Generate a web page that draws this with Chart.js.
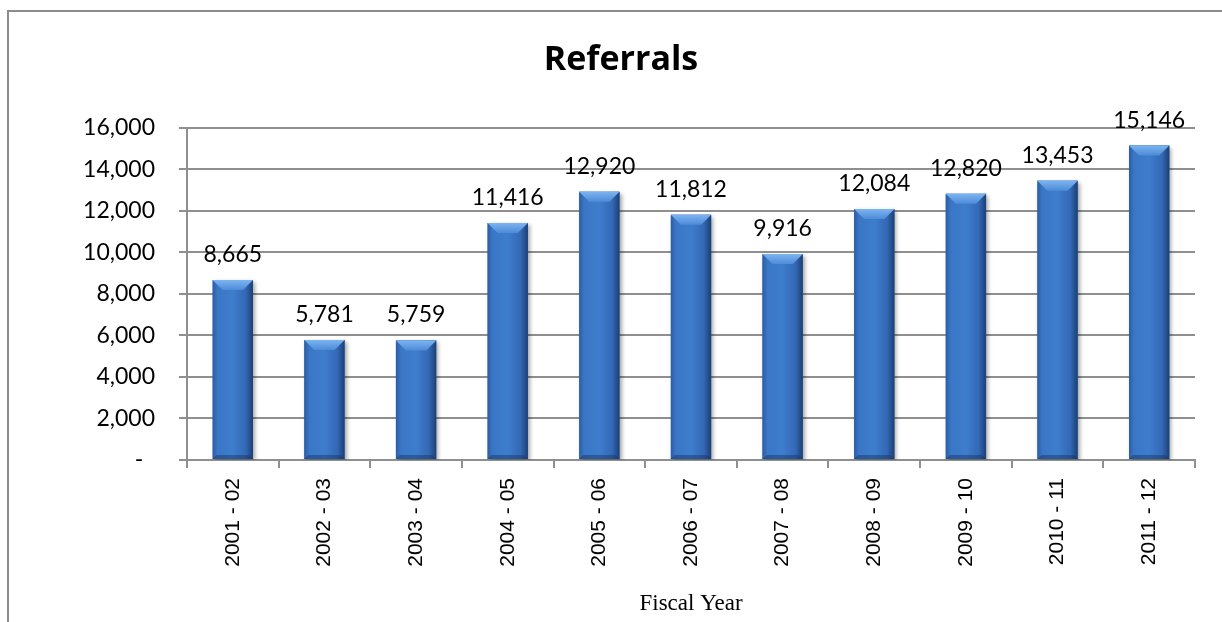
<!DOCTYPE html>
<html>
<head>
<meta charset="utf-8">
<script src="https://cdn.jsdelivr.net/npm/chart.js@4/dist/chart.umd.min.js"></script>
<style>
  html, body { margin: 0; padding: 0; background: #fff; overflow: hidden; }
  #wrap { position: relative; width: 1222px; height: 622px; }
  #frame {
    position: absolute; left: 7px; top: 10px; right: -10px; bottom: -10px;
    border-left: 2px solid #8c8c8c; border-top: 2px solid #8c8c8c;
    pointer-events: none;
  }
  canvas { position: absolute; left: 0; top: 0; }
</style>
</head>
<body>
<div id="wrap">
  <canvas id="referrals" width="1222" height="622"></canvas>
  <div id="frame"></div>
</div>
<script>
const fiscalYears = [
  "2001 - 02", "2002 - 03", "2003 - 04", "2004 - 05", "2005 - 06", "2006 - 07",
  "2007 - 08", "2008 - 09", "2009 - 10", "2010 - 11", "2011 - 12",
];
const referrals = [8665, 5781, 5759, 11416, 12920, 11812, 9916, 12084, 12820, 13453, 15146];
const yMax = 16000;
const yStep = 2000;

const numFont = "Lato, 'Open Sans', sans-serif";
const gridColor = "#8f8f8f";

function fmt(v) {
  // accounting style: zero shows as a dash
  if (v === 0) return "-  ";
  return v.toLocaleString("en-US");
}

// shading over each bar: side gradient, light bevel at the top, dark lip at the bottom
const barShade = {
  id: "barShade",
  beforeDatasetsDraw(chart) {
    const ctx = chart.ctx;
    ctx.save();
    ctx.shadowColor = "rgba(0,0,0,0.35)";
    ctx.shadowBlur = 4;
    ctx.shadowOffsetX = 2;
    ctx.shadowOffsetY = 2;
  },
  afterDatasetsDraw(chart) {
    const ctx = chart.ctx;
    ctx.restore();
    ctx.save();
    const meta = chart.getDatasetMeta(0);
    meta.data.forEach((bar) => {
      const w = bar.width;
      const l = bar.x - w / 2;
      const r = bar.x + w / 2;
      const t = bar.y;
      const b = bar.base;

      const g = ctx.createLinearGradient(l, 0, r, 0);
      g.addColorStop(0, "#2b5ca3");
      g.addColorStop(0.12, "#3a76c5");
      g.addColorStop(0.5, "#3e7dcd");
      g.addColorStop(0.82, "#3368b4");
      g.addColorStop(1, "#1c3f74");
      ctx.fillStyle = g;
      ctx.fillRect(l, t, w, b - t);

      // top bevel
      const bev = Math.min(10, (b - t) / 3);
      const tg = ctx.createLinearGradient(0, t, 0, t + bev);
      tg.addColorStop(0, "#7cb4f0");
      tg.addColorStop(1, "#4d8bd8");
      ctx.fillStyle = tg;
      ctx.beginPath();
      ctx.moveTo(l, t);
      ctx.lineTo(r, t);
      ctx.lineTo(r - bev, t + bev);
      ctx.lineTo(l + bev, t + bev);
      ctx.closePath();
      ctx.fill();

      // bottom lip
      ctx.fillStyle = "rgba(20,50,100,0.45)";
      ctx.beginPath();
      ctx.moveTo(l, b);
      ctx.lineTo(r, b);
      ctx.lineTo(r - 4, b - 4);
      ctx.lineTo(l + 4, b - 4);
      ctx.closePath();
      ctx.fill();
    });

    // value labels above the bars
    ctx.fillStyle = "#000";
    ctx.font = "23px " + numFont;
    ctx.textAlign = "center";
    ctx.textBaseline = "alphabetic";
    meta.data.forEach((bar, i) => {
      ctx.fillText(fmt(referrals[i]), bar.x, bar.y - 18);
    });
    ctx.restore();
  },
};

new Chart(document.getElementById("referrals"), {
  type: "bar",
  data: {
    labels: fiscalYears,
    datasets: [{
      label: "Referrals",
      data: referrals,
      backgroundColor: "#3a76c5",
      borderWidth: 0,
      categoryPercentage: 1,
      barPercentage: 0.44,
    }],
  },
  options: {
    responsive: false,
    animation: false,
    events: [],
    layout: { padding: { left: 47, right: 27, top: 0, bottom: 0 } },
    plugins: {
      legend: { display: false },
      tooltip: { enabled: false },
      title: {
        display: true,
        text: "Referrals",
        color: "#000",
        font: { family: "'Open Sans', sans-serif", size: 34, weight: "bold" },
        padding: { top: 40, bottom: 47 },
      },
    },
    scales: {
      x: {
        grid: {
          offset: true,
          drawOnChartArea: false,
          drawTicks: true,
          tickLength: 8,
          color: gridColor,
          lineWidth: 2,
        },
        border: { color: gridColor, width: 2 },
        ticks: {
          color: "#000",
          minRotation: 90,
          maxRotation: 90,
          padding: 10,
          font: { family: "'Liberation Sans', Arial, sans-serif", size: 21 },
        },
        title: {
          display: true,
          text: "Fiscal Year",
          color: "#000",
          font: { family: "'Liberation Serif', 'Times New Roman', serif", size: 23 },
          padding: { top: 0, bottom: 4 },
        },
        afterFit(scale) { scale.height = 162; },
      },
      y: {
        min: 0,
        max: yMax,
        grid: {
          color: gridColor,
          lineWidth: 2,
          drawTicks: true,
          tickLength: 8,
        },
        border: { color: gridColor, width: 2 },
        ticks: {
          stepSize: yStep,
          color: "#000",
          padding: 24,
          font: { family: numFont, size: 23 },
          callback: (v) => fmt(v),
        },
        afterFit(scale) { scale.width = 140; },
      },
    },
  },
  plugins: [barShade],
});
</script>
</body>
</html>
